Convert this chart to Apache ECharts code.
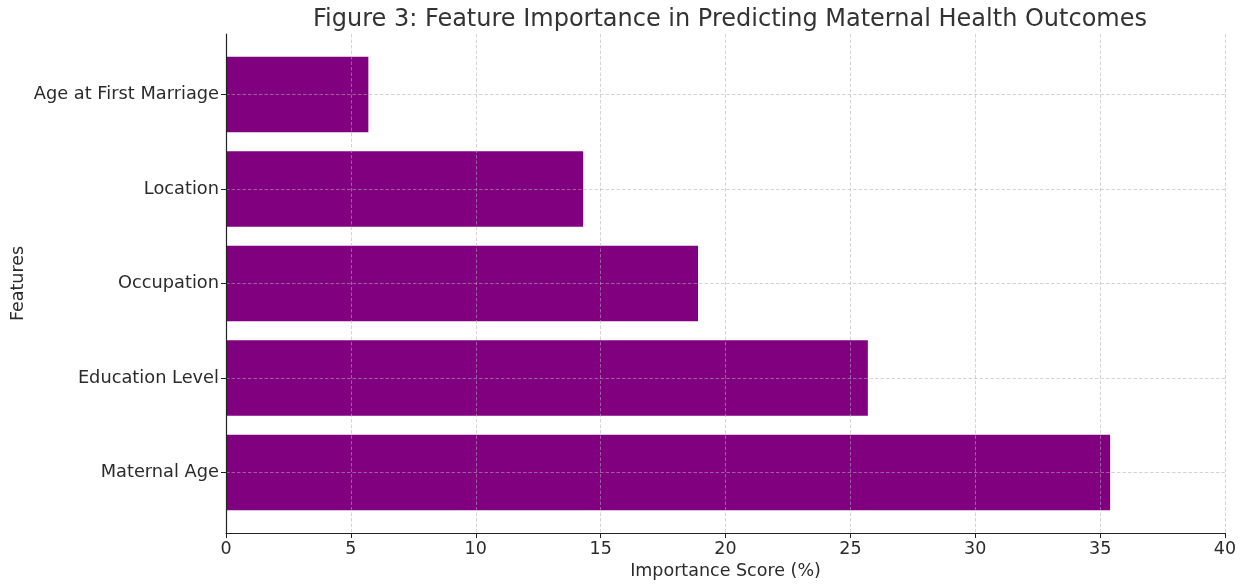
<!DOCTYPE html>
<html>
<head>
<meta charset="utf-8">
<script src="https://cdn.jsdelivr.net/npm/echarts@6/dist/echarts.min.js"></script>
<style>
  html, body { margin: 0; padding: 0; background: #fff; }
  #chart { width: 1248px; height: 584px; }
</style>
</head>
<body>
<div id="chart"></div>
<script>
// top to bottom
const features = ["Age at First Marriage", "Location", "Occupation", "Education Level", "Maternal Age"];
const scores = [5.7, 14.3, 18.9, 25.7, 35.4];
const xTicks = [0, 5, 10, 15, 20, 25, 30, 35, 40];

const FONT = "DejaVu Sans";
const TXT = "#2b2b2b";
const PURPLE = "#800080";
const GRIDLINE = { color: "rgba(176,176,176,0.55)", type: [3.5, 2], width: 1 };

const chart = echarts.init(document.getElementById("chart"));

// plot frame 226..1225 x 34..533; bars live in an inner grid matching matplotlib margins
const plotTop = 34, plotH = 499;
const unit = plotH / 5.28;
const innerTop = plotTop + 0.14 * unit;
const innerH = 5 * unit;

chart.setOption({
  animation: false,
  title: {
    text: "Figure 3: Feature Importance in Predicting Maternal Health Outcomes",
    left: 725, top: 3, textAlign: "center",
    textStyle: { fontFamily: FONT, fontSize: 24, fontWeight: "normal", color: "#333" }
  },
  grid: [
    { left: 226, right: 23, top: plotTop, height: plotH, outerBoundsMode: "none" },
    { left: 226, right: 23, top: innerTop, height: innerH, outerBoundsMode: "none" }
  ],
  xAxis: [
    {
      gridIndex: 0, type: "value", min: 0, max: 40, interval: 5, z: 10,
      name: "Importance Score (%)", nameLocation: "middle", nameGap: 29,
      nameTextStyle: { fontFamily: FONT, fontSize: 17.5, color: TXT },
      axisLine: { show: true, lineStyle: { color: "#222", width: 1.2 } },
      axisTick: { show: true, length: 5, lineStyle: { color: "#222" } },
      axisLabel: { fontFamily: FONT, fontSize: 17.5, color: TXT, margin: 7,
        formatter: v => xTicks.includes(v) ? String(v) : "" },
      splitLine: { show: true, lineStyle: GRIDLINE }
    },
    { gridIndex: 1, type: "value", min: 0, max: 40, show: false }
  ],
  yAxis: [
    {
      gridIndex: 0, type: "value", min: 0, max: 1, z: 10,
      name: "Features", nameLocation: "middle", nameGap: 199, nameRotate: 90,
      nameTextStyle: { fontFamily: FONT, fontSize: 17.5, color: TXT },
      axisLine: { show: true, lineStyle: { color: "#222", width: 1.2 } },
      axisTick: { show: false }, axisLabel: { show: false }, splitLine: { show: false }
    },
    {
      gridIndex: 1, type: "category", data: features, inverse: true,
      axisLine: { show: false },
      axisTick: { show: true, alignWithLabel: true, length: 5, lineStyle: { color: "#222" } },
      axisLabel: { fontFamily: FONT, fontSize: 17.8, color: TXT, margin: 7, padding: [5, 0, 0, 0] },
      splitLine: { show: false }
    }
  ],
  series: [{
    type: "bar",
    xAxisIndex: 1, yAxisIndex: 1,
    data: scores,
    barWidth: "80%",
    itemStyle: { color: PURPLE },
    emphasis: { disabled: true },
    markLine: {
      silent: true, symbol: "none", z: 10,
      label: { show: false },
      lineStyle: GRIDLINE,
      data: features.map(f => ({ yAxis: f }))
    }
  }]
});
</script>
</body>
</html>
